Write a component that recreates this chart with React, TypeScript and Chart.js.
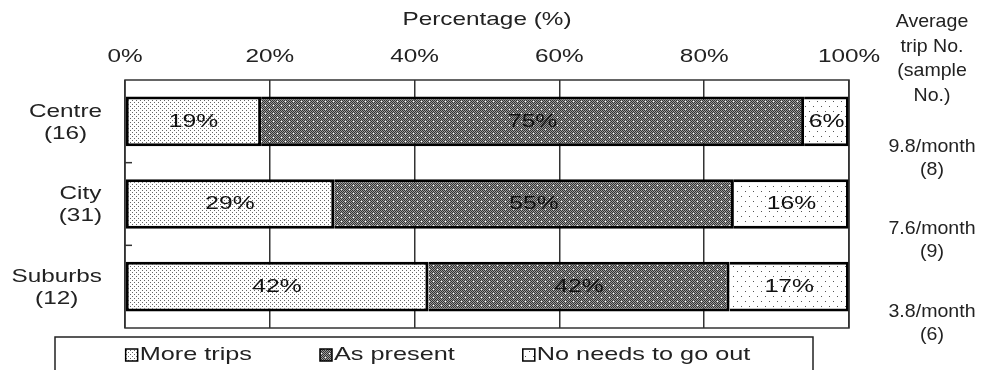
import React, { useEffect, useRef } from 'react';
import { Chart, registerables } from 'chart.js';

Chart.register(...registerables);

// ---- data ----
const categories: string[][] = [['Centre', '(16)'], ['City', '(31)'], ['Suburbs', '(12)']];
const seriesNames = ['More trips', 'As present', 'No needs to go out'];
const moreTrips = [18.8, 28.9, 41.9];
const asPresent = [75.0, 55.2, 41.6];
const noNeeds = [6.2, 15.9, 16.5];
const avgTrips = ['9.8/month', '7.6/month', '3.8/month'];
const sampleNos = ['(8)', '(9)', '(6)'];
const sideHeader = ['Average', 'trip No.', '(sample', 'No.)'];
const xTicks = [0, 20, 40, 60, 80, 100];
const axisTitle = 'Percentage (%)';

const FONT_FAMILY = '"Liberation Sans", Arial, sans-serif';
const FS = 19;
const SX_MAIN = 1.28;
const SX_SIDE = 1.03;
const SX_LEGEND = 1.33;
const SX_LABEL = 1.3;
const TEXT = '#222';

function makePattern(kind: number): CanvasPattern | string {
  const c = document.createElement('canvas');
  const g = c.getContext('2d')!;
  if (kind === 0) {
    c.width = 4; c.height = 4;
    g.fillStyle = '#fff'; g.fillRect(0, 0, 4, 4);
    g.fillStyle = '#666';
    g.fillRect(0, 0, 1, 1); g.fillRect(2, 2, 1, 1);
  } else if (kind === 1) {
    c.width = 8; c.height = 8;
    for (let y = 0; y < 8; y++) for (let x = 0; x < 8; x++) {
      g.fillStyle = (x + y) % 2 === 0 ? '#333' : '#9a9a9a';
      g.fillRect(x, y, 1, 1);
    }
    g.fillStyle = '#fff';
    g.fillRect(1, 1, 1, 1); g.fillRect(5, 5, 1, 1);
  } else {
    c.width = 8; c.height = 10;
    g.fillStyle = '#fff'; g.fillRect(0, 0, 8, 10);
    g.fillStyle = '#555';
    g.fillRect(1, 1, 1, 1); g.fillRect(5, 6, 1, 1);
  }
  return g.createPattern(c, 'repeat') || '#ccc';
}

function drawText(ctx: CanvasRenderingContext2D, text: string, x: number, y: number, align: CanvasTextAlign, sx: number) {
  ctx.save();
  ctx.translate(x, y);
  ctx.scale(sx, 1);
  ctx.textAlign = align;
  ctx.textBaseline = 'middle';
  ctx.fillText(text, 0, 0);
  ctx.restore();
}

const decorPlugin = {
  id: 'decor',
  afterDatasetsDraw(chart: any) {
    const ctx: CanvasRenderingContext2D = chart.ctx;
    ctx.save();
    ctx.font = `${FS}px ${FONT_FAMILY}`;
    ctx.fillStyle = '#111';
    chart.data.datasets.forEach((ds: any, di: number) => {
      const meta = chart.getDatasetMeta(di);
      meta.data.forEach((el: any, i: number) => {
        const cx = (el.x + el.base) / 2;
        drawText(ctx, Math.round(ds.data[i]) + '%', cx, el.y, 'center', SX_LABEL);
      });
    });
    ctx.restore();
  },
  afterDraw(chart: any) {
    const ctx: CanvasRenderingContext2D = chart.ctx;
    const { left, right, top, bottom } = chart.chartArea;
    const xs = chart.scales.x;
    const ys = chart.scales.y;
    ctx.save();
    // plot frame
    ctx.strokeStyle = '#333';
    ctx.lineWidth = 1.5;
    ctx.strokeRect(left, top, right - left, bottom - top);
    // inner category ticks
    for (let i = 0; i < categories.length - 1; i++) {
      const yb = (ys.getPixelForValue(i) + ys.getPixelForValue(i + 1)) / 2;
      ctx.beginPath();
      ctx.moveTo(left, yb);
      ctx.lineTo(left + 7, yb);
      ctx.stroke();
    }
    ctx.font = `${FS}px ${FONT_FAMILY}`;
    ctx.fillStyle = TEXT;
    // x ticks and title
    xTicks.forEach((v) => {
      drawText(ctx, v + '%', xs.getPixelForValue(v), top - 23, 'center', SX_MAIN);
    });
    drawText(ctx, axisTitle, (left + right) / 2, top - 60, 'center', SX_MAIN);
    // y labels (block right aligned, lines centred)
    const lh = 22;
    categories.forEach((lines, i) => {
      const cy = ys.getPixelForValue(i) + 1;
      const w = Math.max(...lines.map((l) => ctx.measureText(l).width)) * SX_MAIN;
      const cx = left - 23 - w / 2;
      lines.forEach((l, j) => {
        drawText(ctx, l, cx, cy + (j - (lines.length - 1) / 2) * lh, 'center', SX_MAIN);
      });
    });
    // right side
    const rx = right + 83;
    sideHeader.forEach((l, j) => drawText(ctx, l, rx, 22 + j * 24.5, 'center', SX_SIDE));
    avgTrips.forEach((t, i) => {
      const cy = ys.getPixelForValue(i);
      drawText(ctx, t, rx, cy + 25, 'center', SX_SIDE);
      drawText(ctx, sampleNos[i], rx, cy + 48, 'center', SX_SIDE);
    });
    // legend
    const items = chart.data.datasets.map((ds: any) => ({ text: ds.label, fill: ds.backgroundColor }));
    const box = 12;
    const gap = 2;
    const sep = 68;
    const lbx = left - 70;
    const lbw = right - 36 - lbx;
    const widths = items.map((it: any) => box + gap + ctx.measureText(it.text).width * SX_LEGEND);
    const total = widths.reduce((a: number, b: number) => a + b, 0) + sep * (items.length - 1);
    let lx = lbx + lbw / 2 - total / 2 + 4;
    const ly = bottom + 27;
    ctx.strokeStyle = '#222';
    ctx.lineWidth = 1.5;
    ctx.strokeRect(lbx, bottom + 9, lbw, 60);
    items.forEach((it: any, k: number) => {
      ctx.fillStyle = it.fill;
      ctx.fillRect(lx, ly - box / 2, box, box);
      ctx.strokeStyle = '#000';
      ctx.lineWidth = 1.5;
      ctx.strokeRect(lx, ly - box / 2, box, box);
      ctx.fillStyle = TEXT;
      drawText(ctx, it.text, lx + box + gap, ly, 'left', SX_LEGEND);
      lx += widths[k] + sep;
    });
    ctx.restore();
  },
};

export default function App() {
  const ref = useRef<HTMLCanvasElement | null>(null);
  useEffect(() => {
    if (!ref.current) return;
    const fills = [makePattern(0), makePattern(1), makePattern(2)];
    const seriesData = [moreTrips, asPresent, noNeeds];
    const chart = new Chart(ref.current, {
      type: 'bar',
      data: {
        labels: categories.map((c) => c.join(' ')),
        datasets: seriesNames.map((name, i) => ({
          label: name,
          data: seriesData[i],
          backgroundColor: fills[i] as any,
          borderColor: '#000',
          borderWidth: 3,
          borderSkipped: i === 0 ? false : 'start',
          barPercentage: 0.6,
          categoryPercentage: 1,
        })),
      },
      options: {
        indexAxis: 'y',
        animation: false,
        responsive: false,
        maintainAspectRatio: false,
        layout: { padding: { left: 0, right: 155, top: 0, bottom: 42 } },
        plugins: { legend: { display: false }, tooltip: { enabled: false } },
        scales: {
          x: {
            position: 'top',
            stacked: true,
            min: 0,
            max: 100,
            ticks: { display: false, stepSize: 20 },
            grid: { color: '#333', lineWidth: 1.5, drawTicks: false },
            border: { display: false },
            afterFit: (s: any) => { s.height = 80; },
          },
          y: {
            stacked: true,
            ticks: { display: false },
            grid: { display: false, drawTicks: false },
            border: { display: false },
            afterFit: (s: any) => { s.width = 125; },
          },
        },
      },
      plugins: [decorPlugin],
    });
    return () => chart.destroy();
  }, []);
  return (
    <div style={{ position: 'fixed', left: 0, top: 0, width: 1004, height: 370, background: '#fff' }}>
      <canvas ref={ref} width={1004} height={370} style={{ width: 1004, height: 370, display: 'block' }} />
    </div>
  );
}
